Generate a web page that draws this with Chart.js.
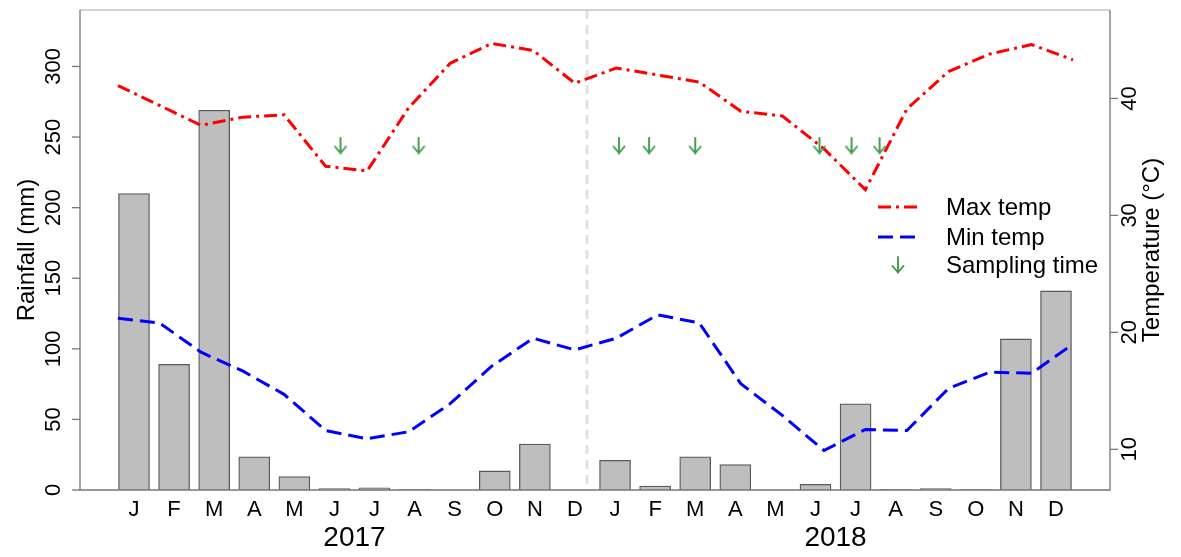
<!DOCTYPE html>
<html><head><meta charset="utf-8">
<script src="https://cdn.jsdelivr.net/npm/chart.js@4.4.1/dist/chart.umd.min.js"></script>
<style>html,body{margin:0;padding:0;background:#fff;}#wrap{width:1181px;height:557px;}</style>
</head><body><div id="wrap"><canvas id="c" width="1181" height="557"></canvas></div>
<script>
// ---- data ----
const months = ['J','F','M','A','M','J','J','A','S','O','N','D','J','F','M','A','M','J','J','A','S','O','N','D'];
const years = ['2017','2018'];
const rainfall = [210,89,269,23.5,9.5,1,1.5,0.5,0,13.5,32.5,0,21,2.8,23.5,18,0,4,61,0.5,1,0.3,107,141];
const maxTemp = [41.1,39.4,37.7,38.4,38.6,34.2,33.8,39.2,43.0,44.7,44.1,41.3,42.6,42.0,41.4,38.9,38.5,35.7,32.2,39.1,42.3,43.8,44.6,43.3];
const minTemp = [21.2,20.8,18.3,16.7,14.7,11.6,10.9,11.5,13.9,17.1,19.5,18.5,19.5,21.5,20.8,15.6,12.9,9.9,11.7,11.6,15.2,16.6,16.5,19.0];
const samplingTimes = [5.15,7.1,12.1,12.85,14.0,17.1,17.9,18.6];
const samplingLevel = 244;
const rainTicks = [0,50,100,150,200,250,300];
const tempTicks = [10,20,30,40];
const yearDivider = 11.3;

const FONT = '"Liberation Sans", Arial, sans-serif';
const GREEN = '#3f9a4c';

function makeArrow(){
  const c = document.createElement('canvas');
  c.width = 14; c.height = 18;
  const g = c.getContext('2d');
  g.strokeStyle = GREEN; g.lineWidth = 1.9; g.lineCap = 'round'; g.lineJoin='round';
  g.beginPath(); g.moveTo(7,1); g.lineTo(7,16.5); g.stroke();
  g.beginPath(); g.moveTo(1.5,10); g.lineTo(7,16.5); g.lineTo(12.5,10); g.stroke();
  return c;
}
const arrowImg = makeArrow();

const decor = {
  id:'decor',
  beforeDatasetsDraw(chart){
    const ctx = chart.ctx, a = chart.chartArea, x = chart.scales.x.getPixelForValue(yearDivider);
    ctx.save();
    ctx.strokeStyle = '#e2e2e2'; ctx.lineWidth = 3; ctx.setLineDash([9,6]);
    ctx.beginPath(); ctx.moveTo(x, a.top); ctx.lineTo(x, a.bottom); ctx.stroke();
    ctx.restore();
  },
  afterDraw(chart){
    const ctx = chart.ctx, a = chart.chartArea, sx = chart.scales.x, sy = chart.scales.y, st = chart.scales.y2;
    ctx.save();
    ctx.lineWidth = 1.3;
    // box
    ctx.strokeStyle = '#c4c4c4';
    ctx.beginPath(); ctx.moveTo(a.left, a.top); ctx.lineTo(a.right, a.top); ctx.stroke();
    ctx.strokeStyle = '#777';
    ctx.beginPath(); ctx.moveTo(a.left, a.top); ctx.lineTo(a.left, a.bottom); ctx.lineTo(a.right, a.bottom); ctx.lineTo(a.right, a.top); ctx.stroke();
    // axis ticks and rotated labels
    ctx.fillStyle = '#000';
    ctx.font = '22px ' + FONT;
    ctx.textAlign = 'center'; ctx.textBaseline = 'middle';
    rainTicks.forEach(v => {
      const y = sy.getPixelForValue(v);
      ctx.beginPath(); ctx.moveTo(a.left - 8, y); ctx.lineTo(a.left, y); ctx.stroke();
      ctx.save(); ctx.translate(a.left - 26, y); ctx.rotate(-Math.PI/2); ctx.fillText(String(v), 0, 0); ctx.restore();
    });
    tempTicks.forEach(v => {
      const y = st.getPixelForValue(v);
      ctx.beginPath(); ctx.moveTo(a.right, y); ctx.lineTo(a.right + 8, y); ctx.stroke();
      ctx.save(); ctx.translate(a.right + 20, y); ctx.rotate(-Math.PI/2); ctx.fillText(String(v), 0, 0); ctx.restore();
    });
    // axis titles
    ctx.font = '24px ' + FONT;
    const midY = (a.top + a.bottom)/2;
    ctx.save(); ctx.translate(27, midY); ctx.rotate(-Math.PI/2); ctx.fillText('Rainfall (mm)', 0, 0); ctx.restore();
    ctx.save(); ctx.translate(1152, midY); ctx.rotate(-Math.PI/2); ctx.fillText('Temperature (°C)', 0, 0); ctx.restore();
    // years
    ctx.font = '28px ' + FONT;
    years.forEach((yr, k) => {
      const xc = (sx.getPixelForValue(k*12) + sx.getPixelForValue(k*12 + 11))/2;
      ctx.fillText(yr, xc, 538);
    });
    // legend
    const ds = chart.data.datasets;
    const items = [ds[1], ds[2], ds[3]];
    const lx0 = 878, lx1 = 922, tx = 946, ys = [207, 237, 265];
    ctx.font = '24px ' + FONT; ctx.textAlign = 'left';
    items.forEach((d, i) => {
      const y = ys[i];
      if (i < 2) {
        ctx.save(); ctx.strokeStyle = d.borderColor; ctx.lineWidth = 3; ctx.setLineDash(d.borderDash);
        ctx.beginPath(); ctx.moveTo(lx0, y); ctx.lineTo(lx1, y); ctx.stroke(); ctx.restore();
      } else {
        ctx.drawImage(arrowImg, 898 - 7, y - 9);
      }
      ctx.fillStyle = '#000';
      ctx.fillText(d.label, tx, y + 1);
    });
    ctx.restore();
  }
};

new Chart(document.getElementById('c'), {
  type: 'bar',
  data: {
    datasets: [
      { type:'bar', label:'Rainfall', xAxisID:'x', yAxisID:'y', grouped:false,
        data: rainfall.map((v,i)=>({x:i, y:v})),
        backgroundColor:'#bebebe', borderColor:'#5a5a5a', borderWidth:1.3, barThickness:31, order:3 },
      { type:'line', label:'Max temp', xAxisID:'x2', yAxisID:'y2',
        data: maxTemp.map((v,i)=>({x:i, y:v})),
        borderColor:'#ff0000', borderWidth:3, borderDash:[13,5,3,5], pointRadius:0, tension:0, fill:false, order:1 },
      { type:'line', label:'Min temp', xAxisID:'x2', yAxisID:'y2',
        data: minTemp.map((v,i)=>({x:i, y:v})),
        borderColor:'#0000ff', borderWidth:3, borderDash:[15,7], pointRadius:0, tension:0, fill:false, order:2 },
      { type:'line', label:'Sampling time', xAxisID:'x', yAxisID:'y', showLine:false,
        data: samplingTimes.map(t=>({x:t, y:samplingLevel})),
        pointStyle: arrowImg, pointRadius: 9, order:0 }
    ]
  },
  options: {
    responsive:false, animation:false, devicePixelRatio:1,
    layout:{ padding:{ left:80, right:71, top:7, bottom:0 } },
    plugins:{ legend:{display:false}, tooltip:{enabled:false} },
    scales:{
      x:{ type:'linear', position:'bottom', min:-1.347, max:24.347, offset:false,
          grid:{display:false, drawTicks:false, offset:false}, border:{display:false},
          afterBuildTicks: s => { s.ticks = months.map((_, i) => ({value:i})); },
          afterFit: s => { s.height = 67; },
          ticks:{ autoSkip:false, maxRotation:0, padding:7, color:'#000',
                  font:{ size:22, family:FONT },
                  callback:(v, i) => months[i] } },
      x2:{ type:'linear', display:false, min:-0.915, max:23.891, offset:false },
      y:{ type:'linear', display:false, min:0, max:340 },
      y2:{ type:'linear', display:false, min:6.52, max:47.56 }
    }
  },
  plugins:[decor]
});
</script></body></html>
